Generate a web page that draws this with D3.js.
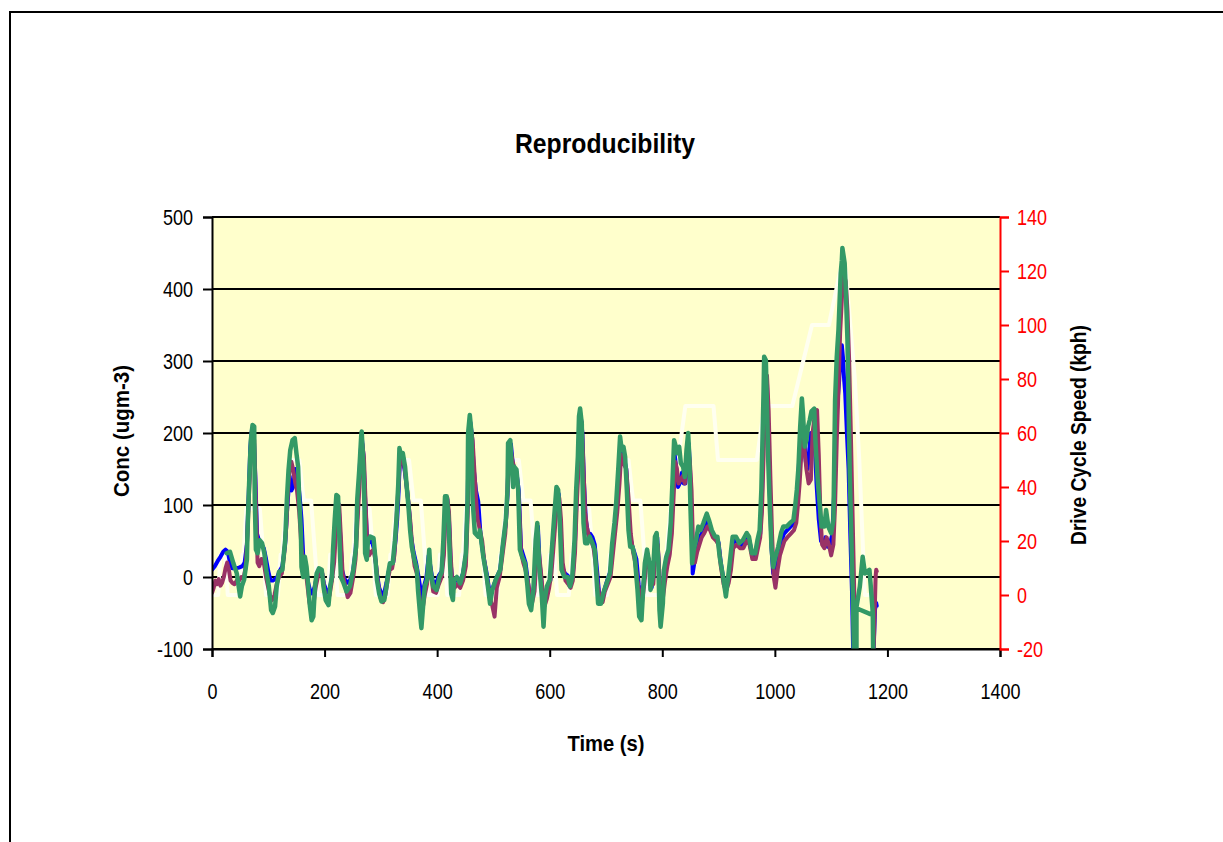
<!DOCTYPE html>
<html>
<head>
<meta charset="utf-8">
<script src="https://cdn.jsdelivr.net/npm/d3@7/dist/d3.min.js"></script>
<style>
  html, body { margin: 0; padding: 0; background: #ffffff; }
  svg { display: block; }
  .narrow { font-family: "Liberation Sans", Arial, sans-serif; }
</style>
</head>
<body>
<svg id="chart" width="1223" height="842"></svg>
<script>
// ---- Axis ticks ----
const timeTicks = [0, 200, 400, 600, 800, 1000, 1200, 1400];
const concTicks = [-100, 0, 100, 200, 300, 400, 500];
const speedTicks = [-20, 0, 20, 40, 60, 80, 100, 120, 140];

// ---- NEDC drive cycle speed profile: [time s, speed kph] ----
const driveCycle = [
  [0,0],[11,0],[15,15],[23,15],[25,10],[28,0],[49,0],[54,15],[56,15],[61,32],[85,32],[93,10],[96,0],
  [117,0],[122,15],[124,15],[133,35],[135,35],[143,50],[155,50],[163,35],[176,35],[185,10],[188,0],
  [206,0],[210,15],[218,15],[220,10],[223,0],[244,0],[249,15],[251,15],[256,32],[280,32],[288,10],[291,0],
  [312,0],[317,15],[319,15],[328,35],[330,35],[338,50],[350,50],[358,35],[371,35],[380,10],[383,0],
  [401,0],[405,15],[413,15],[415,10],[418,0],[439,0],[444,15],[446,15],[451,32],[475,32],[483,10],[486,0],
  [507,0],[512,15],[514,15],[523,35],[525,35],[533,50],[545,50],[553,35],[566,35],[575,10],[578,0],
  [596,0],[600,15],[608,15],[610,10],[613,0],[634,0],[639,15],[641,15],[646,32],[670,32],[678,10],[681,0],
  [702,0],[707,15],[709,15],[718,35],[720,35],[728,50],[740,50],[748,35],[761,35],[770,10],[773,0],
  [800,0],[805,15],[807,15],[816,35],[818,35],[826,50],[828,50],[841,70],[891,70],[899,50],[968,50],
  [981,70],[1031,70],[1066,100],[1096,100],[1116,120],[1126,120],[1142,80],[1150,50],[1160,0],[1180,0]
];

// ---- Concentration runs: [time s, conc ugm-3] ----
const run1 = [
  [0,10],[5,15],[10,22],[15,28],[20,35],[24,38],[28,35],[32,20],[36,12],[42,12],[48,13],[54,15],[58,20],[62,45],
  [65,110],[68,180],[71,205],[74,200],[77,140],[80,60],[84,50],[88,45],[92,40],[96,25],[100,8],[104,-5],[108,-5],
  [112,-3],[116,0],[120,8],[125,15],[130,45],[134,100],[138,140],[141,120],[144,125],[148,150],[152,140],[156,110],
  [159,80],[162,30],[166,20],[170,-5],[174,-18],[178,-23],[182,-15],[186,0],[190,10],[195,8],[199,-10],[204,-20],
  [208,-22],[212,-5],[216,30],[219,75],[222,110],[225,100],[228,55],[231,10],[235,-2],[240,-8],[245,-5],[250,5],
  [255,35],[259,100],[263,160],[266,195],[269,170],[272,110],[275,60],[279,48],[284,50],[289,35],[293,5],[297,-15],
  [302,-25],[306,-22],[310,-8],[314,8],[318,18],[322,20],[326,50],[329,80],[332,125],[334,170],[338,165],[342,150],
  [346,125],[350,95],[354,55],[358,35],[363,18],[367,0],[371,-20],[374,-30],[377,-12],[381,0],[385,30],[388,15],
  [392,-5],[398,-10],[403,2],[408,8],[412,45],[415,105],[418,108],[421,80],[424,20],[428,-15],[432,-5],[436,-2],
  [441,-5],[446,5],[451,30],[454,100],[456,190],[459,215],[462,195],[465,150],[469,120],[473,105],[477,60],[482,30],
  [488,5],[494,-25],[499,-15],[505,-2],[512,10],[517,45],[522,75],[525,115],[527,175],[531,185],[534,160],[537,150],
  [541,145],[545,120],[549,40],[553,30],[557,20],[561,-5],[565,-30],[569,-25],[573,-10],[576,40],[579,70],[582,20],
  [587,-20],[590,-40],[594,-20],[597,-10],[601,-5],[605,45],[609,80],[613,120],[616,115],[619,75],[622,15],[627,5],
  [632,2],[637,-8],[641,2],[645,50],[648,120],[651,165],[653,220],[655,225],[658,200],[661,130],[664,80],[668,60],
  [672,60],[676,55],[680,45],[684,10],[688,-25],[693,-30],[697,-18],[702,-5],[708,8],[712,45],[716,75],[719,100],
  [723,150],[726,185],[729,170],[732,165],[736,150],[739,110],[742,60],[746,45],[750,35],[754,25],[758,-10],[762,-35],
  [766,-15],[770,15],[774,30],[778,15],[781,-15],[784,0],[788,50],[791,55],[794,15],[797,-40],[800,-35],[804,5],
  [808,20],[812,30],[816,70],[819,125],[822,170],[825,150],[828,125],[831,130],[835,145],[838,130],[841,130],
  [844,160],[847,185],[849,155],[852,90],[854,5],[858,25],[862,45],[866,55],[870,60],[874,70],[880,80],[885,70],
  [890,58],[896,52],[900,48],[904,20],[909,-5],[913,-20],[918,-2],[922,25],[926,50],[932,50],[938,42],[944,45],
  [950,55],[955,50],[960,30],[966,30],[970,48],[974,60],[977,110],[979,180],[981,260],[983,290],[986,270],[988,200],
  [991,120],[994,40],[997,5],[1000,10],[1004,25],[1008,40],[1012,50],[1016,60],[1022,65],[1028,70],[1034,75],
  [1037,95],[1040,120],[1043,160],[1046,200],[1049,225],[1052,190],[1055,160],[1058,150],[1061,175],[1064,200],
  [1068,200],[1071,185],[1074,130],[1078,80],[1082,50],[1086,45],[1090,55],[1094,42],[1098,45],[1102,60],[1105,110],
  [1108,200],[1111,240],[1114,270],[1117,310],[1119,322],[1121,305],[1123,275],[1125,255],[1128,200],[1131,150],
  [1134,60],[1137,-20],[1140,-140],[1173,-140],[1176,-90],[1178,-45],[1180,-36],[1181,-40]
];

const run2 = [
  [0,-22],[3,-15],[6,-5],[9,-10],[12,-3],[15,-12],[18,-8],[21,0],[24,12],[27,20],[30,10],[33,-5],[36,-8],[40,-10],
  [44,-5],[48,-5],[52,0],[56,-3],[60,15],[63,60],[66,120],[69,170],[72,195],[75,190],[78,100],[81,20],[84,15],
  [88,25],[92,20],[96,0],[100,-15],[104,-30],[107,-32],[111,-25],[115,-10],[119,0],[124,5],[128,30],[132,70],
  [135,120],[138,150],[141,160],[144,150],[148,130],[151,120],[155,90],[159,40],[163,15],[166,12],[169,-8],[173,-35],
  [177,-50],[180,-40],[184,-15],[188,0],[192,10],[196,5],[200,-20],[204,-35],[209,-25],[213,-5],[217,20],[220,60],
  [223,100],[226,100],[229,55],[232,5],[236,-10],[241,-28],[246,-22],[251,0],[255,25],[259,85],[263,140],[267,185],
  [270,165],[273,100],[276,40],[279,30],[283,35],[287,38],[291,20],[295,-10],[299,-28],[304,-35],[308,-25],[312,-5],
  [316,10],[320,12],[324,30],[327,70],[330,110],[333,150],[336,170],[340,165],[344,140],[348,110],[352,80],[356,40],
  [360,15],[364,5],[368,-25],[371,-40],[374,-45],[378,-25],[382,-10],[386,25],[389,5],[393,-20],[398,-22],[403,-10],
  [408,0],[412,30],[415,95],[418,110],[421,90],[424,30],[427,-10],[431,-15],[436,-10],[441,-15],[446,-5],[451,15],
  [454,80],[457,180],[460,205],[463,190],[466,150],[469,110],[472,80],[476,65],[480,50],[484,20],[489,-5],[494,-30],
  [498,-40],[502,-55],[506,-15],[511,0],[516,30],[521,60],[524,100],[527,160],[530,180],[533,165],[537,150],[541,145],
  [545,110],[549,35],[553,20],[557,10],[561,-5],[565,-25],[569,-35],[573,-20],[576,20],[580,40],[584,10],[588,-25],
  [591,-40],[595,-30],[599,-15],[603,5],[606,35],[610,75],[614,110],[617,110],[620,80],[623,20],[628,-5],[633,-10],
  [637,-15],[641,-5],[645,35],[648,100],[651,150],[654,200],[657,215],[660,150],[663,90],[666,70],[670,55],[674,50],
  [678,40],[682,15],[686,-15],[690,-35],[694,-35],[698,-20],[703,-10],[708,0],[712,30],[716,60],[720,90],[724,130],
  [727,170],[730,160],[733,155],[736,150],[740,110],[744,60],[748,35],[752,20],[756,-5],[760,-25],[764,-35],[768,-10],
  [772,20],[776,25],[780,0],[784,-10],[788,40],[792,45],[795,0],[798,-30],[801,-30],[805,-5],[809,15],[813,30],
  [817,60],[820,110],[823,160],[826,150],[829,130],[832,135],[836,140],[840,130],[843,150],[846,175],[849,160],
  [852,120],[855,30],[858,20],[862,35],[866,45],[870,55],[874,60],[880,70],[885,65],[890,55],[896,50],[900,45],
  [904,15],[909,-10],[913,-20],[918,-8],[922,10],[926,40],[932,45],[938,40],[944,40],[950,50],[955,45],[960,25],
  [966,25],[970,40],[974,55],[977,90],[980,170],[983,270],[986,280],[989,230],[992,140],[995,60],[998,0],[1001,-15],
  [1005,10],[1009,30],[1013,40],[1017,50],[1022,55],[1028,60],[1034,65],[1038,75],[1041,100],[1044,130],[1047,170],
  [1050,200],[1053,175],[1056,150],[1060,130],[1064,135],[1067,200],[1071,225],[1075,232],[1078,170],[1081,85],
  [1084,45],[1088,40],[1092,55],[1096,45],[1100,30],[1104,45],[1107,100],[1110,190],[1113,260],[1116,340],[1120,400],
  [1123,420],[1126,410],[1129,370],[1132,300],[1135,200],[1138,90],[1141,-20],[1143,-140],[1174,-140],[1177,-60],
  [1179,0],[1180,10],[1181,8]
];

const run3 = [
  [26,33],[32,35],[38,19],[44,5],[50,-27],[53,-13],[57,-4],[62,24],[63,61],[66,131],[69,190],[72,211],[75,209],
  [76,107],[78,38],[81,33],[85,51],[89,47],[93,33],[97,6],[101,-13],[105,-46],[108,-50],[112,-41],[115,-13],[119,7],
  [125,10],[130,51],[133,107],[136,149],[139,176],[143,190],[147,193],[150,172],[153,153],[155,107],[158,61],[159,14],
  [162,0],[165,28],[168,14],[171,-13],[174,-41],[177,-60],[180,-55],[183,-13],[186,5],[190,12],[195,10],[198,-13],
  [202,-32],[207,-39],[210,-13],[213,0],[215,38],[218,79],[221,114],[224,112],[226,61],[229,0],[233,-7],[239,-20],
  [245,-13],[251,10],[256,42],[258,107],[262,153],[265,195],[266,202],[269,153],[271,93],[272,33],[275,24],[277,51],
  [281,56],[287,54],[290,28],[293,-4],[297,-23],[301,-34],[306,-32],[310,-13],[313,5],[316,19],[321,19],[325,51],
  [328,84],[331,130],[333,179],[336,167],[339,172],[343,153],[346,125],[349,98],[352,65],[355,42],[359,26],[364,10],
  [366,-18],[370,-55],[372,-71],[375,-41],[378,-13],[382,-4],[386,38],[388,10],[393,-13],[399,-18],[404,0],[408,7],
  [411,51],[414,112],[417,112],[420,84],[422,38],[425,-23],[428,-32],[430,-4],[435,0],[441,-9],[446,5],[451,33],
  [454,107],[455,200],[458,225],[461,200],[463,107],[467,61],[473,56],[476,65],[482,28],[488,0],[494,-37],[498,-18],
  [504,-4],[512,10],[517,47],[522,79],[525,121],[526,186],[530,190],[532,158],[535,125],[537,153],[541,149],[544,121],
  [547,38],[551,28],[556,19],[560,-9],[563,-37],[567,-46],[571,-18],[575,51],[578,75],[581,19],[586,-27],[589,-69],
  [592,-27],[595,-13],[600,-4],[605,51],[608,84],[612,125],[615,121],[618,75],[621,10],[626,0],[632,0],[636,-13],
  [640,0],[644,51],[647,121],[650,167],[652,223],[654,234],[657,213],[658,144],[660,75],[663,47],[667,47],[671,56],
  [676,47],[680,38],[683,0],[686,-37],[691,-37],[695,-23],[701,-9],[707,5],[711,47],[715,75],[718,102],[722,153],
  [725,195],[728,176],[731,181],[734,167],[737,121],[740,65],[743,42],[747,42],[751,28],[756,-18],[759,-55],[763,-60],
  [766,-18],[769,19],[773,38],[777,19],[779,-18],[783,0],[787,56],[790,61],[793,19],[795,-46],[797,-69],[801,-37],
  [803,10],[807,28],[811,38],[815,75],[818,130],[821,190],[824,181],[827,172],[830,181],[833,158],[837,153],[840,139],
  [843,176],[846,200],[848,167],[850,98],[853,19],[856,38],[860,51],[864,70],[868,65],[873,75],[879,88],[883,79],
  [888,65],[894,56],[898,56],[902,28],[908,0],[913,-27],[917,0],[921,28],[925,56],[931,56],[937,47],[943,51],
  [950,61],[954,56],[959,33],[965,33],[969,51],[973,65],[976,121],[978,190],[980,260],[981,306],[984,301],[986,237],
  [988,167],[991,98],[994,42],[997,14],[1001,28],[1006,42],[1011,61],[1015,70],[1021,70],[1027,75],[1033,79],
  [1036,98],[1039,121],[1042,153],[1045,209],[1048,248],[1050,227],[1053,181],[1056,190],[1059,209],[1062,218],
  [1065,230],[1070,234],[1072,190],[1076,135],[1080,98],[1083,70],[1088,70],[1091,93],[1095,70],[1100,61],[1104,79],
  [1106,190],[1107,246],[1110,306],[1113,343],[1117,422],[1119,440],[1120,457],[1124,436],[1126,399],[1129,329],
  [1131,237],[1133,144],[1136,51],[1139,-41],[1141,-140],[1144,-140],[1144,-43],[1174,-53],[1175,-140],[1145,-140],
  [1145,-42],[1151,-13],[1156,28],[1160,5],[1168,10],[1170,-9],[1174,-50],[1175,-140]
];

const runs = [
  { name: "Run 1", color: "#0000ff", width: 4, data: run1 },
  { name: "Run 2", color: "#993366", width: 4, data: run2 },
  { name: "Run 3", color: "#339966", width: 4.5, data: run3 }
];

// ---- Layout ----
const plot = { left: 212, right: 1000, top: 217, bottom: 649 };
const narrowFactor = 0.82;   // condensed lettering
const svg = d3.select("#chart");

const x = d3.scaleLinear().domain([0, 1400]).range([plot.left, plot.right]);
const yConc = d3.scaleLinear().domain([-100, 500]).range([plot.bottom, plot.top]);
const ySpeed = d3.scaleLinear().domain([-20, 140]).range([plot.bottom, plot.top]);

// Squeeze a text element horizontally so it reads as a narrow face
function condense(sel) {
  sel.each(function () {
    const w = this.getComputedTextLength();
    d3.select(this)
      .attr("textLength", (w * narrowFactor).toFixed(1))
      .attr("lengthAdjust", "spacingAndGlyphs");
  });
}

// Outer chart frame
svg.append("rect")
  .attr("x", 10).attr("y", 12)
  .attr("width", 1223).attr("height", 850)
  .attr("fill", "#ffffff").attr("stroke", "#000").attr("stroke-width", 2);

// Plot background
svg.append("rect")
  .attr("x", plot.left).attr("y", plot.top)
  .attr("width", plot.right - plot.left).attr("height", plot.bottom - plot.top)
  .attr("fill", "#ffffcc");

svg.append("clipPath").attr("id", "plot-clip")
  .append("rect")
  .attr("x", plot.left).attr("y", plot.top)
  .attr("width", plot.right - plot.left).attr("height", plot.bottom - plot.top);

// Horizontal gridlines
svg.append("g")
  .selectAll("line")
  .data(concTicks)
  .join("line")
  .attr("x1", plot.left).attr("x2", plot.right)
  .attr("y1", d => yConc(d)).attr("y2", d => yConc(d))
  .attr("stroke", "#000").attr("stroke-width", 2);

const layer = svg.append("g").attr("clip-path", "url(#plot-clip)");

// Drive cycle speed trace (secondary axis)
layer.append("path")
  .datum(driveCycle)
  .attr("fill", "none")
  .attr("stroke", "#fffff0")
  .attr("stroke-width", 4)
  .attr("stroke-linejoin", "round")
  .attr("d", d3.line().x(d => x(d[0])).y(d => ySpeed(d[1])));

// Concentration runs
const concLine = d3.line().x(d => x(d[0])).y(d => yConc(d[1]));
runs.forEach(r => {
  layer.append("path")
    .datum(r.data)
    .attr("fill", "none")
    .attr("stroke", r.color)
    .attr("stroke-width", r.width)
    .attr("stroke-linejoin", "round")
    .attr("stroke-linecap", "round")
    .attr("d", concLine);
});

// ---- Axes ----
const tickFont = 22;
const plainNumber = d => String(d);

const leftAxis = svg.append("g")
  .attr("transform", `translate(${plot.left},0)`)
  .call(d3.axisLeft(yConc).tickValues(concTicks).tickSize(9).tickPadding(10).tickFormat(plainNumber));
leftAxis.select(".domain").attr("stroke", "#000").attr("stroke-width", 2);
leftAxis.selectAll(".tick line").attr("stroke", "#000").attr("stroke-width", 2);
leftAxis.selectAll("text").attr("class", "narrow").attr("font-size", tickFont).attr("fill", "#000");

const bottomAxis = svg.append("g")
  .attr("transform", `translate(0,${plot.bottom})`)
  .call(d3.axisBottom(x).tickValues(timeTicks).tickSize(8).tickPadding(26).tickFormat(plainNumber));
bottomAxis.select(".domain").attr("stroke", "#000").attr("stroke-width", 2);
bottomAxis.selectAll(".tick line").attr("stroke", "#000").attr("stroke-width", 2);
bottomAxis.selectAll("text").attr("class", "narrow").attr("font-size", tickFont).attr("fill", "#000");

const rightAxis = svg.append("g")
  .attr("transform", `translate(${plot.right},0)`)
  .call(d3.axisRight(ySpeed).tickValues(speedTicks).tickSize(9).tickPadding(8).tickFormat(plainNumber));
rightAxis.select(".domain").attr("stroke", "#ff0000").attr("stroke-width", 2);
rightAxis.selectAll(".tick line").attr("stroke", "#ff0000").attr("stroke-width", 2);
rightAxis.selectAll("text").attr("class", "narrow").attr("font-size", tickFont).attr("fill", "#ff0000");

condense(svg.selectAll(".tick text"));

// ---- Titles ----
svg.append("text")
  .attr("class", "narrow")
  .attr("x", 605).attr("y", 153)
  .attr("text-anchor", "middle")
  .attr("font-size", 28).attr("font-weight", "bold")
  .attr("textLength", 180).attr("lengthAdjust", "spacingAndGlyphs")
  .text("Reproducibility");

svg.append("text")
  .attr("class", "narrow")
  .attr("x", 606).attr("y", 751)
  .attr("text-anchor", "middle")
  .attr("font-size", 22).attr("font-weight", "bold")
  .attr("textLength", 77).attr("lengthAdjust", "spacingAndGlyphs")
  .text("Time (s)");

svg.append("text")
  .attr("class", "narrow")
  .attr("transform", "translate(129,431) rotate(-90)")
  .attr("text-anchor", "middle")
  .attr("font-size", 22).attr("font-weight", "bold")
  .attr("textLength", 132).attr("lengthAdjust", "spacingAndGlyphs")
  .text("Conc (ugm-3)");

svg.append("text")
  .attr("class", "narrow")
  .attr("transform", "translate(1086,435) rotate(-90)")
  .attr("text-anchor", "middle")
  .attr("font-size", 22).attr("font-weight", "bold")
  .attr("textLength", 220).attr("lengthAdjust", "spacingAndGlyphs")
  .text("Drive Cycle Speed (kph)");
</script>
</body>
</html>
